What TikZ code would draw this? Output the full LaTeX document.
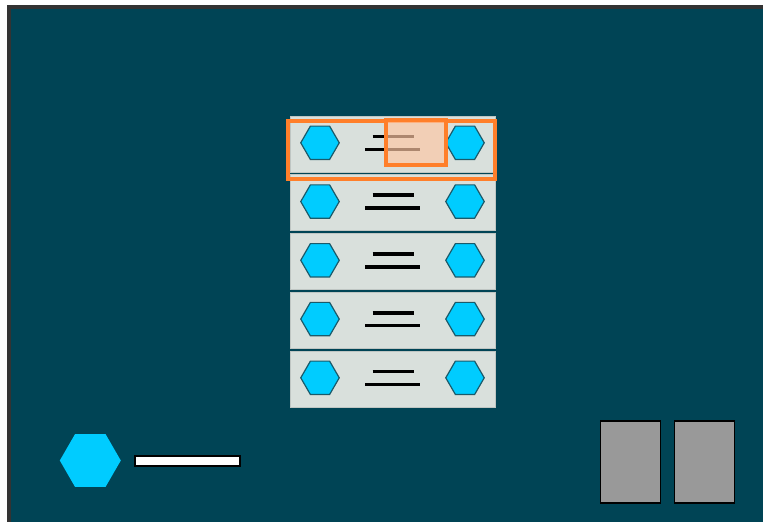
\documentclass[tikz,border=0pt]{standalone}
\usetikzlibrary{shapes.geometric}
\definecolor{bgteal}{HTML}{004455}
\definecolor{framegray}{HTML}{333333}
\definecolor{rowfill}{HTML}{D9E0DC}
\definecolor{rowedge}{HTML}{BFC6C3}
\definecolor{hexcyan}{HTML}{00CCFF}
\definecolor{hexedge}{HTML}{1A5A6A}
\definecolor{hlorange}{HTML}{FF7F2A}
\definecolor{hlpeach}{HTML}{FFC8A5}
\definecolor{boxgray}{HTML}{999999}
\tikzset{
  rowbox/.style={draw=rowedge, line width=0.8, fill=rowfill, minimum width=205, minimum height=56, inner sep=0, rectangle},
  hexsmall/.style={regular polygon, regular polygon sides=6, draw=hexedge, line width=1.2, fill=hexcyan, minimum size=38.5, inner sep=0},
  hexbig/.style={regular polygon, regular polygon sides=6, fill=hexcyan, minimum size=61, inner sep=0},
  barline/.style={line width=3.6, draw=black, line cap=butt},
  hlframe/.style={draw=hlorange, line width=4},
  hlbox/.style={draw=hlorange, line width=4, fill=hlpeach, fill opacity=0.68},
  grayrect/.style={draw=black, line width=1.5, fill=boxgray, minimum width=60, minimum height=82, inner sep=0, rectangle},
  whitebar/.style={draw=black, line width=1.5, fill=white, minimum width=105, minimum height=10, inner sep=0, rectangle}
}
\begin{document}
\begin{tikzpicture}[x=1pt,y=-1pt]
\useasboundingbox (0,0) rectangle (763,522);
\fill[white] (0,0) rectangle (763,522);
\fill[framegray] (7,5) rectangle (763,522);
\fill[bgteal] (11,9) rectangle (763,522);
\foreach \i in {0,...,4}{
  \pgfmathsetmacro{\yc}{144+58.75*\i}
  \node[rowbox] (row\i) at (392.5,\yc) {};
  \node[hexsmall] (hexl\i) at (320,\yc-1.2) {};
  \node[hexsmall] (hexr\i) at (465,\yc-1.2) {};
  \draw[barline] (372.5,\yc-7.5) -- (413.5,\yc-7.5);
  \draw[barline] (365,\yc+5.4) -- (420,\yc+5.4);
}
\draw[hlframe] (288,121) rectangle (494.5,178.7);
\draw[hlbox] (386,120) rectangle (446,165);
\node[hexbig] (bighex) at (90.3,460.5) {};
\node[whitebar] (wbar) at (187.5,461) {};
\node[grayrect] (gray1) at (630.3,462.2) {};
\node[grayrect] (gray2) at (704.5,462.2) {};
\end{tikzpicture}
\end{document}
